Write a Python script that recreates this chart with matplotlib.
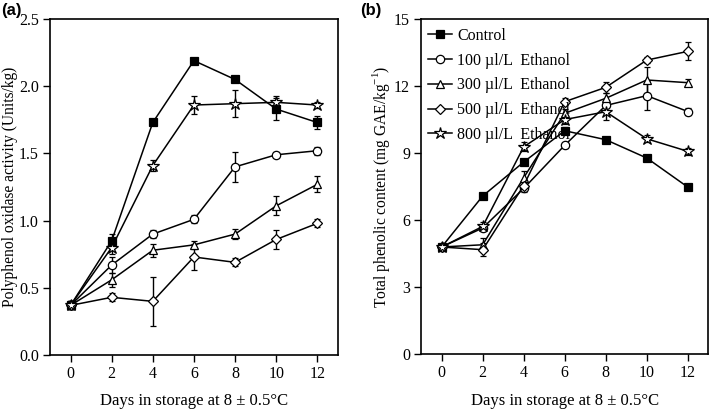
import matplotlib
matplotlib.use("Agg")
import matplotlib.pyplot as plt
from matplotlib.lines import Line2D

days = [0, 2, 4, 6, 8, 10, 12]
labels = ["Control", "100 \u00b5l/L  Ethanol", "300 \u00b5l/L  Ethanol",
          "500 \u00b5l/L  Ethanol", "800 \u00b5l/L  Ethanol"]
markers = ["s", "o", "^", "D", "*"]

# (a) polyphenol oxidase activity (Units/kg)
ppo_control = [0.37, 0.85, 1.73, 2.19, 2.05, 1.83, 1.73]
ppo_100 = [0.37, 0.67, 0.90, 1.01, 1.40, 1.49, 1.52]
ppo_300 = [0.37, 0.56, 0.78, 0.82, 0.90, 1.11, 1.27]
ppo_500 = [0.37, 0.43, 0.40, 0.73, 0.69, 0.86, 0.98]
ppo_800 = [0.37, 0.80, 1.41, 1.86, 1.87, 1.88, 1.86]
ppo_err_control = [0.03, 0.05, 0.02, 0.02, 0.02, 0.08, 0.05]
ppo_err_100 = [0.03, 0.06, 0.03, 0.03, 0.11, 0.02, 0.03]
ppo_err_300 = [0.03, 0.05, 0.05, 0.03, 0.04, 0.07, 0.06]
ppo_err_500 = [0.03, 0.03, 0.18, 0.10, 0.03, 0.07, 0.03]
ppo_err_800 = [0.03, 0.05, 0.04, 0.07, 0.10, 0.05, 0.02]

# (b) total phenolic content (mg GAE/kg)
tpc_control = [4.8, 7.08, 8.6, 10.0, 9.6, 8.78, 7.48]
tpc_100 = [4.8, 5.65, 7.42, 9.35, 11.13, 11.57, 10.86]
tpc_300 = [4.8, 4.9, 7.9, 10.78, 11.45, 12.27, 12.15]
tpc_500 = [4.8, 4.68, 7.55, 11.3, 11.94, 13.16, 13.55]
tpc_800 = [4.8, 5.72, 9.28, 10.5, 10.85, 9.64, 9.08]
tpc_err_control = [0.15, 0.12, 0.15, 0.15, 0.12, 0.15, 0.15]
tpc_err_100 = [0.15, 0.15, 0.15, 0.12, 0.2, 0.65, 0.15]
tpc_err_300 = [0.15, 0.3, 0.3, 0.2, 0.25, 0.6, 0.15]
tpc_err_500 = [0.15, 0.3, 0.15, 0.15, 0.25, 0.15, 0.4]
tpc_err_800 = [0.15, 0.2, 0.2, 0.2, 0.35, 0.15, 0.15]

ppo = [ppo_control, ppo_100, ppo_300, ppo_500, ppo_800]
ppo_err = [ppo_err_control, ppo_err_100, ppo_err_300, ppo_err_500, ppo_err_800]
tpc = [tpc_control, tpc_100, tpc_300, tpc_500, tpc_800]
tpc_err = [tpc_err_control, tpc_err_100, tpc_err_300, tpc_err_500, tpc_err_800]

serif = "Liberation Serif"
plt.rcParams["font.family"] = [serif, "DejaVu Serif"]
plt.rcParams["mathtext.fontset"] = "custom"
plt.rcParams["mathtext.rm"] = serif

fig = plt.figure(figsize=(7.09, 4.12), dpi=100)
ax_a = fig.add_axes([0.0705, 0.138, 0.406, 0.816])
ax_b = fig.add_axes([0.594, 0.140, 0.405, 0.814])


def style(i):
    ms = 9 if markers[i] == "*" else (5 if markers[i] == "D" else 6)
    return dict(color="black", lw=1.1, marker=markers[i], ms=ms,
                mec="black", mew=0.9,
                mfc="black" if i == 0 else "white")


def draw(ax, series, errs):
    for i, (vals, err) in enumerate(zip(series, errs)):
        ax.errorbar(days, vals, yerr=err, ecolor="black", elinewidth=1.0,
                    capsize=2.5, capthick=1.0, zorder=3, **style(i))
    ax.set_xlim(-1, 13)
    ax.set_xticks(days)
    ax.tick_params(direction="out", length=5, width=1.0, labelsize=11.5,
                   pad=3)
    for s in ax.spines.values():
        s.set_linewidth(1.2)
    ax.set_xlabel("Days in storage at 8 \u00b1 0.5\u00b0C", fontsize=12,
                  labelpad=8)


draw(ax_a, ppo, ppo_err)
ax_a.set_ylim(0, 2.5)
ax_a.set_yticks([0.0, 0.5, 1.0, 1.5, 2.0, 2.5])
ax_a.set_yticklabels(["0.0", "0.5", "1.0", "1.5", "2.0", "2.5"])
ax_a.set_ylabel("Polyphenol oxidase activity (Units/kg)", fontsize=11.2)
ax_a.yaxis.set_label_coords(-0.112, 0.5)

draw(ax_b, tpc, tpc_err)
ax_b.set_ylim(0, 15)
ax_b.set_yticks([0, 3, 6, 9, 12, 15])
ax_b.set_ylabel("Total phenolic content (mg GAE/kg$^{-1}$)", fontsize=11.2)
ax_b.yaxis.set_label_coords(-0.10, 0.5)

handles = [Line2D([], [], **style(i)) for i in range(len(labels))]
ax_b.legend(handles, labels, loc="upper left", frameon=False,
            fontsize=11.5, handlelength=1.5, handletextpad=0.3,
            labelspacing=0.55, borderaxespad=0.15,
            bbox_to_anchor=(-0.005, 1.0))

fig.text(0.002, 0.993, "(a)", fontsize=12, fontweight="bold",
         family="Liberation Sans", va="top", ha="left")
fig.text(0.508, 0.993, "(b)", fontsize=12, fontweight="bold",
         family="Liberation Sans", va="top", ha="left")

fig.savefig("out.png", dpi=100)
